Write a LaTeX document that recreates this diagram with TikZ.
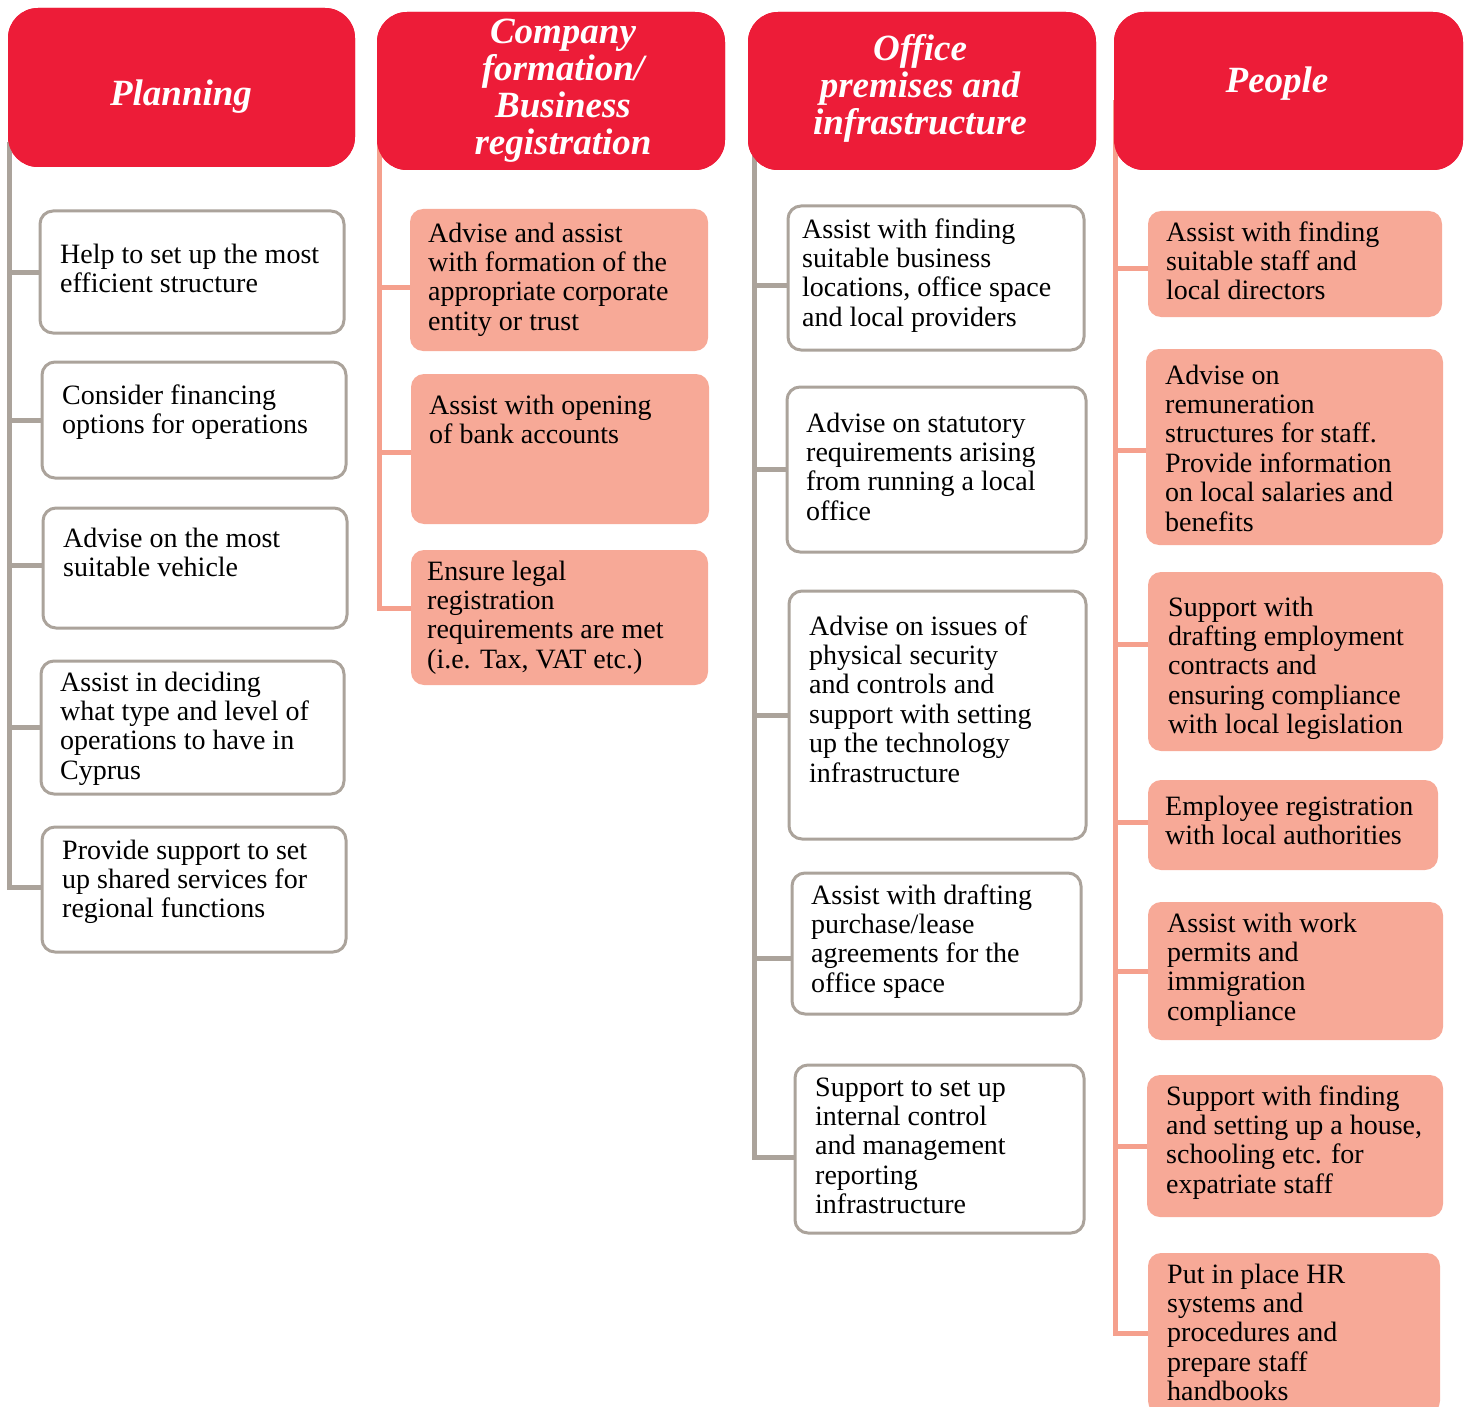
\documentclass[tikz,border=0pt]{standalone}
\usepackage{fontspec}
\setmainfont{Liberation Serif}
\usetikzlibrary{fit}
\definecolor{hdrred}{HTML}{ED1C38}
\definecolor{salmon}{HTML}{F7A997}
\definecolor{salline}{HTML}{F5A08D}
\definecolor{greyline}{HTML}{ABA39B}
\begin{document}
\begin{tikzpicture}[x=1pt,y=-1pt,
  hdr/.style={fill=hdrred, rounded corners=30pt, inner sep=0pt, draw=none},
  wbox/.style={draw=greyline, line width=3pt, fill=white, rounded corners=13pt, inner sep=0pt},
  sbox/.style={fill=salmon, draw=none, rounded corners=13pt, inner sep=0pt},
  txt/.style={font=\fontsize{28}{29.4}\selectfont, align=left, inner sep=0pt, anchor=base west, text=black},
  htxt/.style={font=\fontsize{37}{37}\selectfont\bfseries\itshape, align=center, inner sep=0pt, anchor=base, text=white},
  gline/.style={draw=greyline, line width=5pt},
  sline/.style={draw=salline, line width=5pt},
]
\useasboundingbox (0,0) rectangle (1470,1407);
\clip (0,0) rectangle (1470,1407);

% ---------------- header shapes (positions for the trunks)
\node[hdr, fit={(8,8) (355,167)}] (h1) {};
\node[hdr, fit={(377,12) (725,170)}] (h2) {};
\node[hdr, fit={(748,12) (1096,170)}] (h3) {};
\node[hdr, fit={(1114,12) (1463,170)}] (h4) {};

% ---------------- column 1 boxes
\node[wbox, fit={(40,211) (344,333)}] (b1) {};
\node[wbox, fit={(42,362) (346,478)}] (b2) {};
\node[wbox, fit={(43,508) (347,628)}] (b3) {};
\node[wbox, fit={(41,661) (344,794)}] (b4) {};
\node[wbox, fit={(42,827) (346,952)}] (b5) {};

% ---------------- column 2 boxes
\node[sbox, fit={(410,209) (708,351)}] (c1) {};
\node[sbox, fit={(411,374) (709,524)}] (c2) {};
\node[sbox, fit={(411,550) (708,685)}] (c3) {};

% ---------------- column 3 boxes
\node[wbox, fit={(788,206) (1084,350)}] (d1) {};
\node[wbox, fit={(787,387) (1086,552)}] (d2) {};
\node[wbox, fit={(789,591) (1086,839)}] (d3) {};
\node[wbox, fit={(792,873) (1081,1014)}] (d4) {};
\node[wbox, fit={(795,1065) (1084,1233)}] (d5) {};

% ---------------- column 4 boxes
\node[sbox, fit={(1148,211) (1442,317)}] (e1) {};
\node[sbox, fit={(1146,349) (1443,545)}] (e2) {};
\node[sbox, fit={(1148,572) (1443,751)}] (e3) {};
\node[sbox, fit={(1148,780) (1438,870)}] (e4) {};
\node[sbox, fit={(1148,902) (1443,1040)}] (e5) {};
\node[sbox, fit={(1147,1075) (1443,1217)}] (e6) {};
\node[sbox, fit={(1148,1253) (1440,1414)}] (e7) {};

% ---------------- trunk start points (hidden under headers)
\coordinate (t1) at ([xshift=2pt,yshift=25pt]h1.south west);
\coordinate (t2) at ([xshift=3pt,yshift=25pt]h2.south west);
\coordinate (t3) at ([xshift=7pt,yshift=25pt]h3.south west);
\coordinate (t4) at ([xshift=2pt,yshift=70pt]h4.south west);

% ---------------- connectors
\draw[gline] (t1) |- ([yshift=2pt]b5.west);
\draw[gline] (b1.west) -- (b1.west -| t1);
\draw[gline] (b2.west) -- (b2.west -| t1);
\draw[gline] ([yshift=3pt]b3.west) -- ([yshift=3pt]b3.west -| t1);
\draw[gline] (b4.west) -- (b4.west -| t1);

\draw[sline] (t2) |- ([yshift=9pt]c3.west);
\draw[sline] ([yshift=-7pt]c1.west) -- ([yshift=-7pt]c1.west -| t2);
\draw[sline] ([yshift=-3pt]c2.west) -- ([yshift=-3pt]c2.west -| t2);

\draw[gline] (t3) |- ([yshift=-8pt]d5.west);
\draw[gline] ([yshift=-7pt]d1.west) -- ([yshift=-7pt]d1.west -| t3);
\draw[gline] (d2.west) -- (d2.west -| t3);
\draw[gline] (d3.west) -- (d3.west -| t3);
\draw[gline] ([yshift=-15pt]d4.west) -- ([yshift=-15pt]d4.west -| t3);

\draw[sline] (t4) |- (e7.west);
\draw[sline] ([yshift=-4pt]e1.west) -- ([yshift=-4pt]e1.west -| t4);
\draw[sline] ([yshift=-3pt]e2.west) -- ([yshift=-3pt]e2.west -| t4);
\draw[sline] ([yshift=17pt]e3.west) -- ([yshift=17pt]e3.west -| t4);
\draw[sline] ([yshift=3pt]e4.west) -- ([yshift=3pt]e4.west -| t4);
\draw[sline] (e5.west) -- (e5.west -| t4);
\draw[sline] (e6.west) -- (e6.west -| t4);

% ---------------- headers drawn again on top of the trunk ends
\node[hdr, fit={(8,8) (355,167)}] (h1b) {};
\node[hdr, fit={(377,12) (725,170)}] (h2b) {};
\node[hdr, fit={(748,12) (1096,170)}] (h3b) {};
\node[hdr, fit={(1114,12) (1463,170)}] (h4b) {};

% ---------------- header texts (anchor = baseline of last line)
\node[htxt] (h1t) at (181,106) {Planning};
\node[htxt] (h2t) at (563,155) {Company\\formation/\\Business\\registration};
\node[htxt] (h3t) at (920,135) {Office\\premises and\\infrastructure};
\node[htxt] (h4t) at (1277,93) {People};

% ---------------- box texts (anchor = baseline of last line)
\node[txt] (b1t) at (60,292.4) {Help to set up the most\\efficient structure};
\node[txt] (b2t) at (62,433.4) {Consider financing\\options for operations};
\node[txt] (b3t) at (63,576.4) {Advise on the most\\suitable vehicle};
\node[txt] (b4t) at (60,779.2) {Assist in deciding\\what type and level of\\operations to have in\\Cyprus};
\node[txt] (b5t) at (62,917.8) {Provide support to set\\up shared services for\\regional functions};

\node[txt] (c1t) at (428,330.2) {Advise and assist\\with formation of the\\appropriate corporate\\entity or trust};
\node[txt] (c2t) at (429,443.4) {Assist with opening\\of bank accounts};
\node[txt] (c3t) at (427,668.2) {Ensure legal\\registration\\requirements are met\\(i.e. Tax, VAT etc.)};

\node[txt] (d1t) at (802,326.2) {Assist with finding\\suitable business\\locations, office space\\and local providers};
\node[txt] (d2t) at (806,520.2) {Advise on statutory\\requirements arising\\from running a local\\office};
\node[txt] (d3t) at (809,782) {Advise on issues of\\physical security\\and controls and\\support with setting\\up the technology\\infrastructure};
\node[txt] (d4t) at (811,992.2) {Assist with drafting\\purchase/lease\\agreements for the\\office space};
\node[txt] (d5t) at (815,1213.6) {Support to set up\\internal control\\and management\\reporting\\infrastructure};

\node[txt] (e1t) at (1166,299.8) {Assist with finding\\suitable staff and\\local directors};
\node[txt] (e2t) at (1165,531) {Advise on\\remuneration\\structures for staff.\\Provide information\\on local salaries and\\benefits};
\node[txt] (e3t) at (1168,733.6) {Support with\\drafting employment\\contracts and\\ensuring compliance\\with local legislation};
\node[txt] (e4t) at (1165,844.4) {Employee registration\\with local authorities};
\node[txt] (e5t) at (1167,1020.2) {Assist with work\\permits and\\immigration\\compliance};
\node[txt] (e6t) at (1166,1193.2) {Support with finding\\and setting up a house,\\schooling etc. for\\expatriate staff};
\node[txt] (e7t) at (1167,1400.6) {Put in place HR\\systems and\\procedures and\\prepare staff\\handbooks};
\end{tikzpicture}
\end{document}
